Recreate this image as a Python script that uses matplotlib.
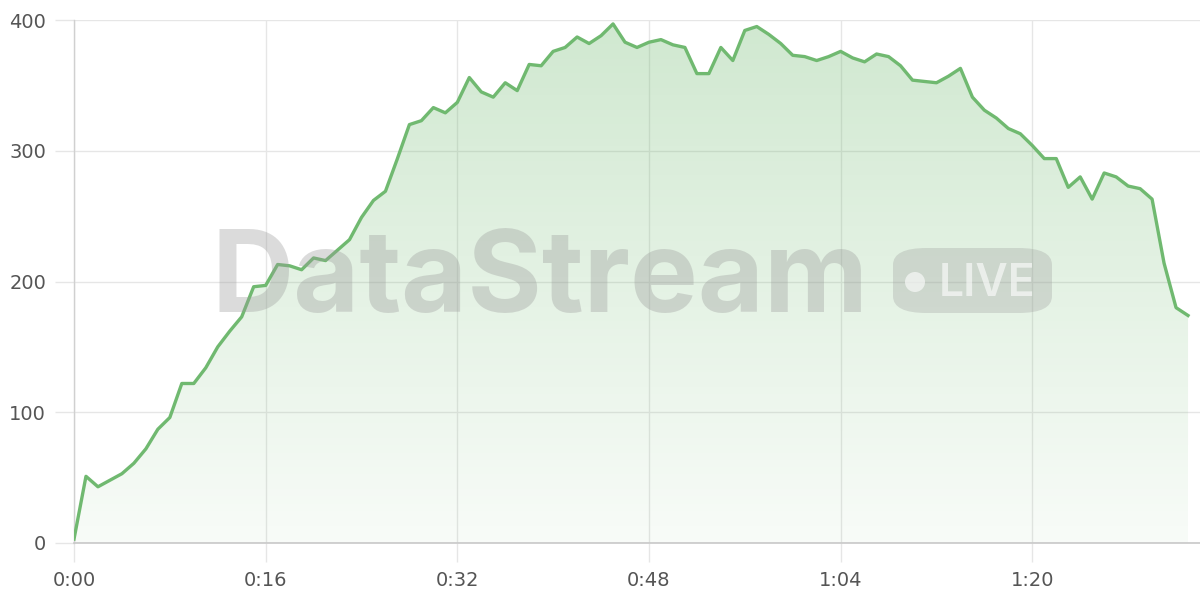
import matplotlib
matplotlib.use("Agg")
import matplotlib.pyplot as plt
import numpy as np
from matplotlib.patches import FancyBboxPatch, Ellipse
from matplotlib.ticker import FuncFormatter

# seconds since start, one sample per second
seconds = list(range(94))
values = [3, 51, 43, 48, 53, 61, 72, 87, 96, 122,
          122, 134, 150, 162, 173, 196, 197, 213, 212, 209,
          218, 216, 224, 232, 249, 262, 269, 294, 320, 323,
          333, 329, 337, 356, 345, 341, 352, 346, 366, 365,
          376, 379, 387, 382, 388, 397, 383, 379, 383, 385,
          381, 379, 359, 359, 379, 369, 392, 395, 389, 382,
          373, 372, 369, 372, 376, 371, 368, 374, 372, 365,
          354, 353, 352, 357, 363, 341, 331, 325, 317, 313,
          304, 294, 294, 272, 280, 263, 283, 280, 273, 271,
          263, 214, 180, 174]
xticks = [0, 16, 32, 48, 64, 80]
yticks = [0, 100, 200, 300, 400]

line_color = '#70b970'
grid_color = '#e6e6e6'

fig = plt.figure(figsize=(12, 6), dpi=100)
ax = fig.add_axes([74 / 1200, 57 / 600, 1 - 74 / 1200, 523 / 600])

ax.set_xlim(0, 94)
ax.set_ylim(0, 400)

# gradient fill under the line
poly = ax.fill_between(seconds, values, 0, color='none', lw=0)
grad = np.zeros((256, 1, 4))
grad[:, 0, :3] = [0.44, 0.73, 0.44]
grad[:, 0, 3] = np.linspace(0.33, 0.05, 256)
img = ax.imshow(grad, extent=[0, 93, 0, 400], aspect='auto', origin='upper',
                zorder=1, interpolation='bilinear')
img.set_clip_path(poly.get_paths()[0], transform=ax.transData)

ax.plot(seconds, values, color=line_color, lw=2.4, zorder=4,
        solid_joinstyle='round')

ax.set_xticks(xticks)
ax.set_yticks(yticks)
ax.xaxis.set_major_formatter(FuncFormatter(lambda v, p: f"{int(v) // 60}:{int(v) % 60:02d}"))
ax.grid(True, color=grid_color, lw=1, zorder=0)
ax.set_axisbelow(True)
ax.tick_params(axis='both', length=14, width=1, color=grid_color,
               labelsize=14, labelcolor='#555555', pad=6)
for s in ['top', 'right']:
    ax.spines[s].set_visible(False)
ax.spines['left'].set_color('#d0d0d0')
ax.spines['bottom'].set_color('#c8c8c8')
ax.spines['left'].set_linewidth(1)
ax.spines['bottom'].set_linewidth(1.2)

# watermark
fig.text(540 / 1200, 1 - 312 / 600, 'DataStream', ha='center', va='baseline',
         fontsize=82, fontweight='bold', family='Inter', color='#9a9a9a',
         alpha=0.35, zorder=3)
pill = FancyBboxPatch((893 / 1200, 1 - 313 / 600), 159 / 1200, 65 / 600,
                      boxstyle='round,pad=0,rounding_size=0.028',
                      transform=fig.transFigure, facecolor='#9a9a9a',
                      edgecolor='none', alpha=0.3, zorder=3)
fig.patches.append(pill)
dot = Ellipse((915 / 1200, 1 - 282 / 600), 20 / 1200, 20 / 600,
              transform=fig.transFigure, facecolor='white', edgecolor='none',
              alpha=0.6, zorder=3)
fig.patches.append(dot)
fig.text(939 / 1200, 1 - 296 / 600, 'LIVE', ha='left', va='baseline',
         fontsize=32, fontweight='semibold', family='Inter', color='white',
         alpha=0.6, zorder=3)

fig.savefig('out.png', dpi=100)
